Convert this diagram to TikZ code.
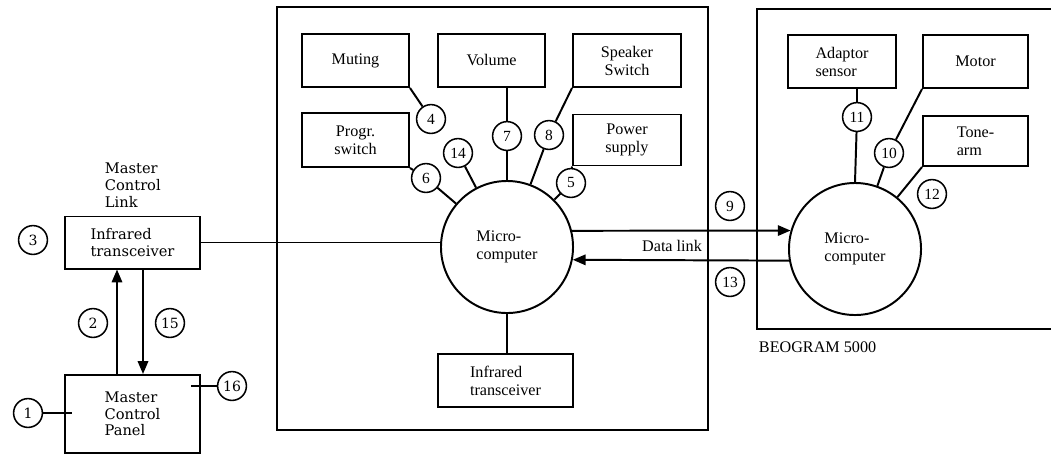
\documentclass[tikz,border=0pt]{standalone}
\usepackage{fontspec}
\setmainfont{Liberation Serif}
\newfontfamily\linkfont{DejaVu Serif}
\usetikzlibrary{arrows.meta,calc}

\begin{document}
\begin{tikzpicture}[
  x=0.025cm, y=-0.025cm,
  every node/.style={font=\fontsize{11.5}{12.8}\selectfont},
  unit/.style={draw, line width=1.4pt, inner sep=2pt, align=center},
  linkbox/.style={unit, font=\linkfont\fontsize{10.4}{11.9}\selectfont, align=left},
  mcu/.style={draw, circle, line width=1.4pt, minimum size=3.3cm, inner sep=0pt, align=left},
  tag/.style={draw, circle, line width=1.1pt, minimum size=0.72cm, inner sep=0pt,
              font=\fontsize{11}{11}\selectfont},
  linktag/.style={tag, font=\linkfont\fontsize{10}{10}\selectfont},
  wire/.style={line width=1.4pt},
  arrow/.style={wire, -{Triangle[length=3.2mm, width=2.6mm]}},
  frame/.style={line width=1.4pt}
]
\useasboundingbox (0,0) rectangle (1051,456);

% master control link and panel
\node[linkbox, minimum width=3.375cm, minimum height=1.3cm] (irleft) at (132.5,242.5) {Infrared\\transceiver};
\node[linkbox, minimum width=3.375cm, minimum height=1.95cm] (panel) at (132.5,414) {Master\\Control\\Panel};
\node[font=\linkfont\fontsize{10.4}{11.9}\selectfont, align=left, anchor=west] (mcl) at (100,185) {Master\\Control\\Link};
\node[linktag] (c3) at (33,240) {3};
\node[linktag] (c2) at (93,323) {2};
\node[linktag] (c15) at (170,323) {15};
\node[linktag] (c1) at (28,413) {1};
\node[linktag] (c16) at (232,386) {16};

\draw[arrow] ($(panel.north)+(-15.5,0)$) -- ($(irleft.south)+(-15.5,0)$);
\draw[arrow] ($(irleft.south)+(10.5,0)$) -- ($(panel.north)+(10.5,0)$);
\draw[wire] (c1) -- ($(c1.east -| panel.west)+(8,0)$);
\draw[wire] (c16) -- ($(c16.west -| panel.east)+(-10,0)$);

% main unit
\draw[frame] (277,7) rectangle (708,430);
\node[mcu] (mainmc) at (507,247) {Micro-\\computer};
\node[unit, minimum width=2.675cm, minimum height=1.325cm] (muting) at (355.5,60.5) {Muting};
\node[unit, minimum width=2.675cm, minimum height=1.325cm] (volume) at (491.5,60.5) {Volume};
\node[unit, minimum width=2.7cm, minimum height=1.325cm] (speaker) at (627,60.5) {Speaker\\Switch};
\node[unit, minimum width=2.675cm, minimum height=1.35cm] (progr) at (355.5,140) {Progr.\\switch};
\node[unit, minimum width=2.7cm, minimum height=1.275cm] (power) at (627,140) {Power\\supply};
\node[unit, minimum width=3.375cm, minimum height=1.325cm, align=left] (irmain) at (505.5,380.5) {Infrared\\transceiver};

\node[tag] (c4) at (431,119) {4};
\node[tag] (c14) at (458,153) {14};
\node[tag] (c7) at (507,136) {7};
\node[tag] (c8) at (549,135) {8};
\node[tag] (c6) at (426,178) {6};
\node[tag] (c5) at (571,183) {5};

\draw[wire] (muting.south east) -- (c4);
\draw[wire] (c14) -- (mainmc);
\draw[wire] (mainmc.north) -- (c7) -- (c7 |- volume.south);
\draw[wire] (speaker.south west) -- (c8) -- (mainmc);
\draw[wire] (progr.south east) -- (c6) -- (mainmc);
\draw[wire] (power.south west) -- (c5) -- (mainmc);
\draw[wire] (mainmc.south) -- (mainmc.south |- irmain.north);
\draw[wire] (irleft.east) -- (irleft.east -| mainmc.west);

% data link
\node[mcu] (beomc) at (855,249) {Micro-\\computer};
\draw[arrow] (mainmc.14) -- (beomc.164);
\draw[arrow] (beomc.190) -- (mainmc.-11);
\node (datalink) at (672,246) {Data link};
\node[tag] (c9) at (730,206) {9};
\node[tag] (c13) at (730,282) {13};

% record player
\draw[frame] (1051,9) -| (757,329) -- (1051,329);
\node[anchor=west] (beogram) at (754,347) {BEOGRAM 5000};
\node[unit, minimum width=2.7cm, minimum height=1.325cm, align=left] (adaptor) at (842,61.5) {Adaptor\\sensor};
\node[unit, minimum width=2.625cm, minimum height=1.325cm] (motor) at (975.5,61.5) {Motor};
\node[unit, minimum width=2.625cm, minimum height=1.25cm, align=left] (tonearm) at (975.5,141) {Tone-\\arm};

\node[tag] (c11) at (857,117) {11};
\node[tag] (c10) at (889,153) {10};
\node[tag] (c12) at (932,194) {12};

\draw[wire] (beomc.north) -- (c11) -- (c11 |- adaptor.south);
\draw[wire] (motor.south west) -- (c10) -- (beomc);
\draw[wire] (tonearm.south west) -- (beomc);
\end{tikzpicture}
\end{document}
